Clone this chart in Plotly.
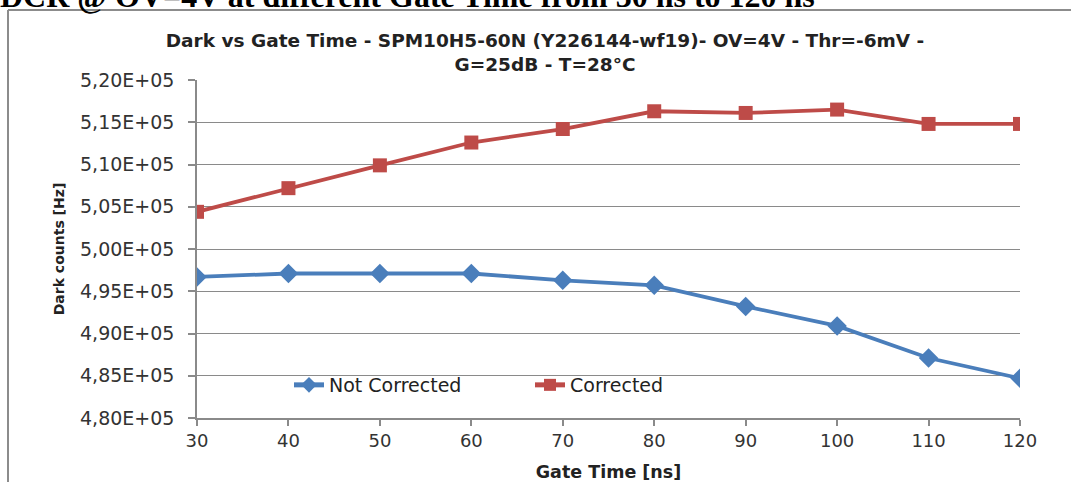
import plotly.graph_objects as go

# Gate time settings [ns]
gate_time = [30, 40, 50, 60, 70, 80, 90, 100, 110, 120]

# Dark count rate [Hz]
not_corrected = [496700, 497100, 497100, 497100, 496300, 495700, 493200, 490900, 487100, 484700]
corrected = [504400, 507200, 509900, 512600, 514200, 516300, 516100, 516500, 514800, 514800]

# Y-axis ticks with comma decimal notation
y_tick_vals = [480000, 485000, 490000, 495000, 500000, 505000, 510000, 515000, 520000]
y_tick_text = ["4,80E+05", "4,85E+05", "4,90E+05", "4,95E+05", "5,00E+05",
               "5,05E+05", "5,10E+05", "5,15E+05", "5,20E+05"]
x_tick_vals = [30, 40, 50, 60, 70, 80, 90, 100, 110, 120]

W, H = 1071, 482
L, R, T, B = 197, 51, 80, 64
PW, PH = W - L - R, H - T - B


def px_x(p):
    return (p - L) / PW


def px_y(p):
    return (H - B - p) / PH


BLUE = "#4A7EBB"
RED = "#BE4B48"
GRID = "#8A8A8A"
TITLE_FONT = "DejaVu Sans"

fig = go.Figure()
fig.add_trace(go.Scatter(
    x=gate_time, y=not_corrected, name="Not Corrected",
    mode="lines+markers",
    line=dict(color=BLUE, width=3.8),
    marker=dict(symbol="diamond", size=15, color=BLUE),
))
fig.add_trace(go.Scatter(
    x=gate_time, y=corrected, name="Corrected",
    mode="lines+markers",
    line=dict(color=RED, width=3.8),
    marker=dict(symbol="square", size=14, color=RED),
))

fig.update_layout(
    width=W, height=H,
    margin=dict(l=L, r=R, t=T, b=B),
    paper_bgcolor="white", plot_bgcolor="white",
    showlegend=True,
    legend=dict(
        orientation="h", x=px_x(289), y=px_y(385),
        xanchor="left", yanchor="middle",
        bgcolor="rgba(0,0,0,0)",
        font=dict(family="DejaVu Sans", size=19, color="#222222"),
        entrywidth=196, entrywidthmode="pixels",
        itemsizing="constant",
    ),
    title=dict(
        text="Dark vs Gate Time - SPM10H5-60N (Y226144-wf19)- OV=4V - Thr=-6mV -<br>G=25dB - T=28°C",
        x=px_x(545), xref="paper", xanchor="center",
        y=1 - 47 / H, yanchor="top",
        font=dict(family=TITLE_FONT, size=18.5, color="#222222", weight="bold"),
    ),
)

fig.update_xaxes(
    range=[30, 120], tickvals=x_tick_vals,
    showgrid=False, zeroline=False, automargin=False,
    showline=True, linecolor=GRID, linewidth=1.5,
    ticks="outside", ticklen=6, tickcolor=GRID, tickwidth=1.5,
    tickfont=dict(family="DejaVu Sans", size=18, color="#333333"),
    title=dict(text="<b>Gate Time [ns]</b>", standoff=17,
               font=dict(family=TITLE_FONT, size=17.5, color="#222222")),
)
fig.update_yaxes(
    range=[480000, 520000], tickvals=y_tick_vals, ticktext=y_tick_text,
    showgrid=True, gridcolor=GRID, gridwidth=1.2,
    zeroline=False, automargin=False,
    showline=True, linecolor=GRID, linewidth=1.5,
    ticks="outside", ticklen=7, tickcolor=GRID, tickwidth=1.5,
    ticklabelstandoff=10,
    tickfont=dict(family="DejaVu Sans", size=19, color="#333333"),
    title=dict(text="<b>Dark counts [Hz]</b>", standoff=12,
               font=dict(family=TITLE_FONT, size=14, color="#222222")),
)

# Outer chart frame (left and top edges)
fig.add_shape(type="line", xref="paper", yref="paper",
              x0=px_x(8), x1=px_x(8), y0=px_y(10), y1=px_y(H + 5),
              line=dict(color="#8C8C8C", width=2))
fig.add_shape(type="line", xref="paper", yref="paper",
              x0=px_x(8), x1=px_x(W + 5), y0=px_y(10), y1=px_y(10),
              line=dict(color="#8C8C8C", width=2))

# Heading above the chart frame, running off the top edge of the page
fig.add_annotation(
    text="<b>DCR @ OV=4V at different Gate Time from 30 ns to 120 ns</b>",
    xref="paper", yref="paper", x=px_x(-2), y=px_y(-4),
    xanchor="left", yanchor="middle", showarrow=False,
    font=dict(family="Liberation Serif", size=32, color="black"),
)

fig.write_html("out.html")
